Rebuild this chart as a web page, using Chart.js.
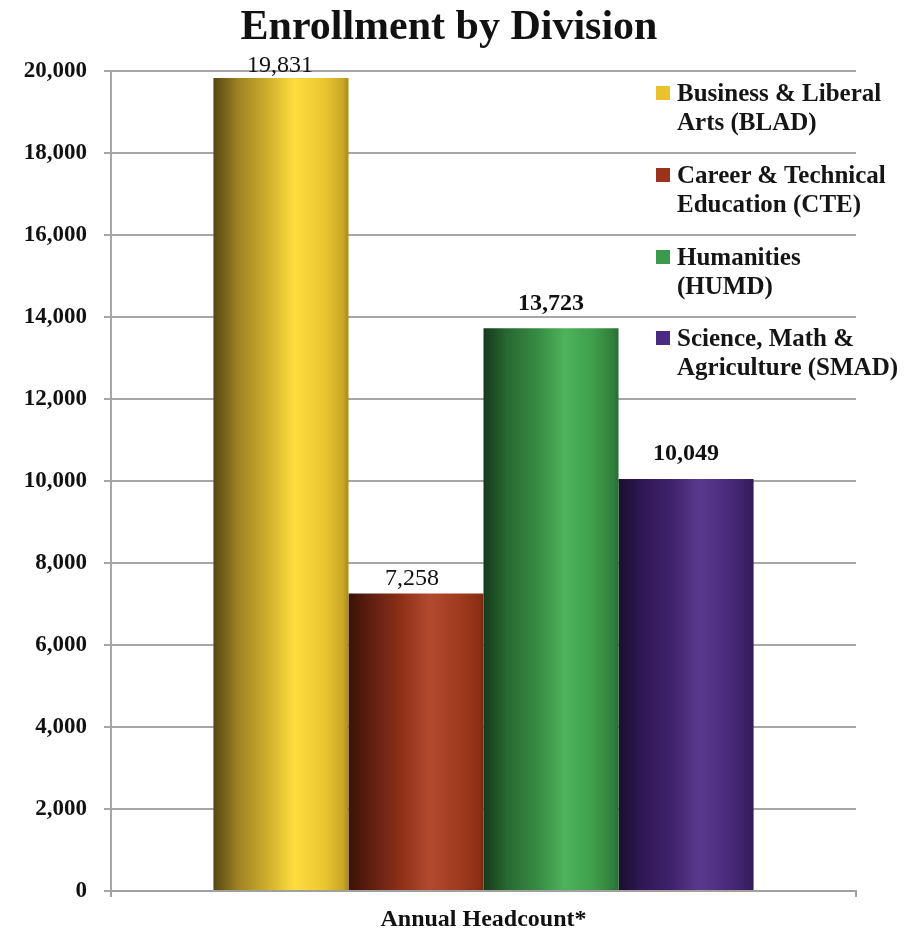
<!DOCTYPE html>
<html>
<head>
<meta charset="utf-8">
<script src="https://cdn.jsdelivr.net/npm/chart.js@4.4.1/dist/chart.umd.min.js"></script>
<style>
  html, body { margin: 0; padding: 0; background: #ffffff; }
  #wrap { position: relative; width: 922px; height: 934px; }
  #chart { position: absolute; left: 0; top: 0; }
  #title { position: absolute; left: 0; top: 1px; width: 898px; text-align: center;
           font-family: "Liberation Serif", "Times New Roman", serif; font-weight: bold;
           font-size: 42px; line-height: 49px; color: #111111; white-space: nowrap; }
  #legend { position: absolute; left: 0; top: 0; width: 922px; height: 934px; pointer-events: none;
            font-family: "Liberation Serif", "Times New Roman", serif; font-weight: bold; font-size: 25px;
            line-height: 29px; color: #151515; }
  .item { position: absolute; left: 656px; white-space: pre; }
  .sw { position: absolute; left: 0; top: 8px; width: 14px; height: 14px; }
  .tx { position: absolute; left: 21px; top: 0; }
</style>
</head>
<body>
<div id="wrap">
  <canvas id="chart" width="922" height="934"></canvas>
  <div id="title"></div>
  <div id="legend"></div>
</div>
<script>
// ---- data ----
const chartTitle = 'Enrollment by Division';
const categories = ['Annual Headcount*'];
const seriesNames = [
  'Business & Liberal\nArts (BLAD)',
  'Career & Technical\nEducation (CTE)',
  'Humanities\n(HUMD)',
  'Science, Math &\nAgriculture (SMAD)'
];
const blad = [19831];
const cte = [7258];
const humd = [13723];
const smad = [10049];
const yTicks = [0, 2000, 4000, 6000, 8000, 10000, 12000, 14000, 16000, 18000, 20000];

// ---- style ----
const SERIF = '"Liberation Serif", "Times New Roman", serif';
const CAT_PCT = 0.725;
const swatchColors = ['#e9c22d', '#9a3319', '#3c9a4c', '#4b2b82'];
const gradStops = [
  [[0, '#574612'], [0.18, '#9c8222'], [0.4, '#cfae2c'], [0.6, '#ffdd3e'], [0.82, '#ebc631'], [0.96, '#c9a624'], [1, '#a88b1e']],
  [[0, '#3a1208'], [0.18, '#632010'], [0.4, '#8f3218'], [0.6, '#b34a2f'], [0.82, '#a03b1d'], [0.96, '#8c3014'], [1, '#7a2a12']],
  [[0, '#163a1b'], [0.18, '#286a32'], [0.4, '#378b43'], [0.6, '#4db35b'], [0.82, '#3f9d4b'], [0.96, '#307d3b'], [1, '#296d33']],
  [[0, '#1c0f2e'], [0.18, '#2f1856'], [0.4, '#40226d'], [0.6, '#5a3a8e'], [0.82, '#48297a'], [0.96, '#3b1f64'], [1, '#321a55']]
];
const labelStyle = [
  { weight: 'normal', gap: 6, dx: -1 },
  { weight: 'normal', gap: 8, dx: -4 },
  { weight: 'bold', gap: 18, dx: 0 },
  { weight: 'bold', gap: 19, dx: 0 }
];
const legendTops = [78, 160, 242, 323];

function fmt(v) { return v.toLocaleString('en-US'); }

function barGradient(ctx) {
  const chart = ctx.chart;
  const i = ctx.datasetIndex;
  const stops = gradStops[i];
  const xs = chart.scales && chart.scales.x;
  if (!chart.chartArea || !xs || !isFinite(xs.width)) return stops[3][1];
  const n = chart.data.datasets.length;
  const center = xs.getPixelForValue(ctx.dataIndex);
  const catW = xs.width / chart.data.labels.length;
  const group = catW * CAT_PCT;
  const bw = group / n;
  const left = center - group / 2 + i * bw;
  const g = chart.ctx.createLinearGradient(left, 0, left + bw, 0);
  stops.forEach(s => g.addColorStop(s[0], s[1]));
  return g;
}

const valueLabels = {
  id: 'valueLabels',
  afterDatasetsDraw(chart) {
    const c = chart.ctx;
    chart.data.datasets.forEach((ds, i) => {
      const meta = chart.getDatasetMeta(i);
      const st = labelStyle[i];
      meta.data.forEach((el, j) => {
        c.save();
        c.font = st.weight + ' 24px ' + SERIF;
        c.fillStyle = '#111111';
        c.textAlign = 'center';
        c.textBaseline = 'alphabetic';
        c.fillText(fmt(ds.data[j]), el.x + st.dx, el.y - st.gap);
        c.restore();
      });
    });
  }
};

const seriesData = [blad, cte, humd, smad];
const datasets = seriesData.map((d, i) => ({
  label: seriesNames[i],
  data: d,
  backgroundColor: barGradient,
  borderWidth: 0,
  categoryPercentage: CAT_PCT,
  barPercentage: 1.0
}));

new Chart(document.getElementById('chart'), {
  type: 'bar',
  data: { labels: categories, datasets: datasets },
  plugins: [valueLabels],
  options: {
    responsive: false,
    animation: false,
    events: [],
    layout: { padding: { left: 0, right: 66, top: 71, bottom: 0 } },
    plugins: {
      legend: { display: false },
      tooltip: { enabled: false },
      title: { display: false }
    },
    scales: {
      x: {
        offset: true,
        grid: { display: true, drawOnChartArea: false, drawTicks: true, tickLength: 6, offset: true, color: '#a0a0a0', lineWidth: 2 },
        border: { display: true, color: '#a0a0a0', width: 2 },
        ticks: { color: '#111111', padding: 8, font: { family: SERIF, size: 24, weight: 'bold' } },
        afterFit(scale) { scale.height = 43; }
      },
      y: {
        min: 0,
        max: 20000,
        afterBuildTicks(scale) { scale.ticks = yTicks.map(v => ({ value: v })); },
        grid: { color: '#a6a6a6', lineWidth: 2, drawTicks: true, tickLength: 7 },
        border: { display: true, color: '#a6a6a6', width: 2 },
        ticks: {
          color: '#111111', padding: 17,
          font: { family: SERIF, size: 23, weight: 'bold' },
          callback: v => fmt(v)
        },
        afterFit(scale) { scale.width = 111; }
      }
    }
  }
});

document.getElementById('title').textContent = chartTitle;

// HTML legend overlay
const lg = document.getElementById('legend');
seriesNames.forEach((name, i) => {
  const it = document.createElement('div');
  it.className = 'item';
  it.style.top = legendTops[i] + 'px';
  const sw = document.createElement('span');
  sw.className = 'sw';
  sw.style.background = swatchColors[i];
  const tx = document.createElement('span');
  tx.className = 'tx';
  tx.textContent = name;
  it.appendChild(sw);
  it.appendChild(tx);
  lg.appendChild(it);
});
</script>
</body>
</html>
